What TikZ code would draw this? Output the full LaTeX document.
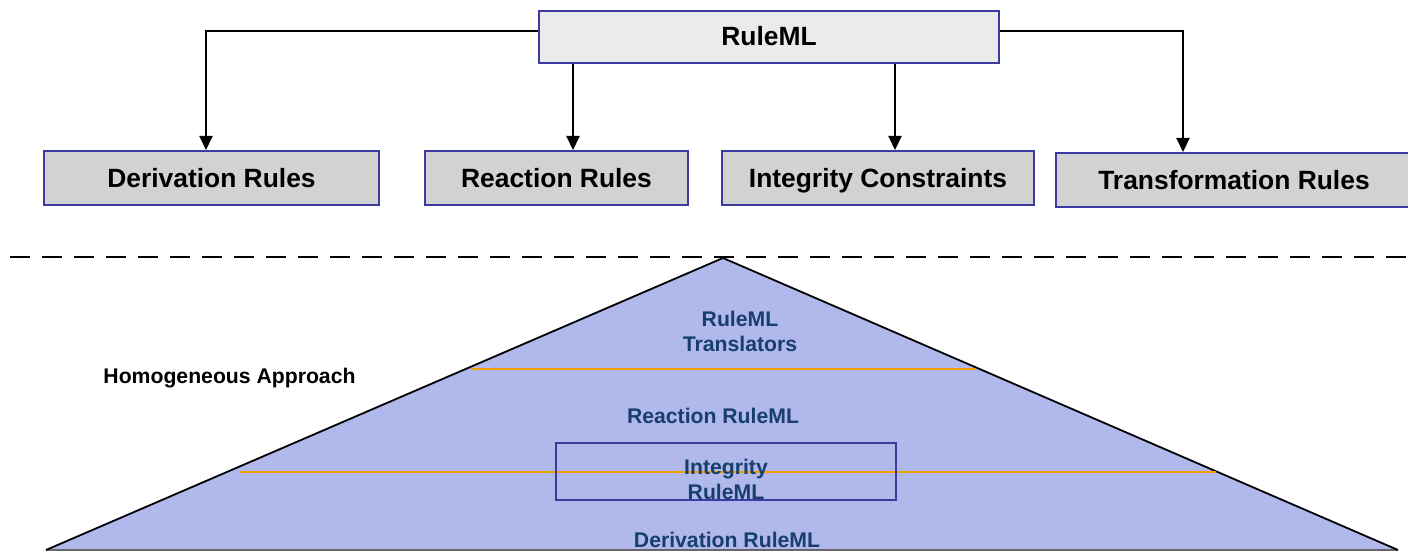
\documentclass[tikz,border=0pt]{standalone}
\usepackage{fontspec}
\setmainfont{Liberation Sans}
\usetikzlibrary{arrows.meta}
\definecolor{boxborder}{HTML}{3C3CA0}
\definecolor{toplight}{HTML}{EBEBEB}
\definecolor{lowgrey}{HTML}{D2D2D2}
\definecolor{trifill}{HTML}{B0B8EC}
\definecolor{orangeline}{HTML}{F0A000}
\definecolor{darkblue}{HTML}{173F6E}
\tikzset{
  topbox/.style={draw=boxborder, line width=1pt, fill=toplight, minimum height=26pt,
    font=\fontsize{13.2pt}{15pt}\selectfont\bfseries, inner sep=0pt, text height=0.9em, text depth=0pt},
  catbox/.style={draw=boxborder, line width=1pt, fill=lowgrey, minimum height=27pt,
    font=\fontsize{13.2pt}{15pt}\selectfont\bfseries, inner sep=0pt, text height=0.9em, text depth=0pt},
  conn/.style={line width=1pt, -{Triangle[length=7pt,width=6.5pt]}},
  bluetext/.style={text=darkblue, font=\fontsize{10.6pt}{12.5pt}\selectfont\bfseries, align=center, inner sep=0pt},
  orange/.style={draw=orangeline, line width=1.3pt},
}
\begin{document}
\begin{tikzpicture}[x=0.5pt,y=-0.5pt]
\useasboundingbox (0,0) rectangle (1408,551);
% top hierarchy
\node[topbox, minimum width=230pt] (rml) at (769,37) {RuleML};
\node[catbox, minimum width=167.5pt] (der) at (211.5,178) {Derivation Rules};
\node[catbox, minimum width=131.5pt] (rea) at (556.5,178) {Reaction Rules};
\node[catbox, minimum width=156pt] (int) at (878,178) {Integrity Constraints};
\node[catbox, minimum width=178pt] (tra) at (1234,180) {Transformation Rules};
\draw[conn] (rml.west |- 0,31) -| ([xshift=-2.75pt]der.north);
\draw[conn] (rml.south -| 573,0) -- (rea.north -| 573,0);
\draw[conn] (rml.south -| 895,0) -- (int.north -| 895,0);
\draw[conn] (rml.east |- 0,31) -| (tra.north -| 1183,0);
% dashed separator
\draw[line width=1pt, dash pattern=on 10pt off 6pt] (10,257) -- (1408,257);
% triangle
\coordinate (apex) at (723,258);
\coordinate (bl) at (46,550);
\coordinate (br) at (1398,550);
\fill[trifill] (apex) -- (bl) -- (br) -- cycle;
\draw[gray!80!black, line width=0.6pt] (bl) -- (br);
\draw[line width=0.9pt] (bl) -- (apex) -- (br);
\coordinate (o1a) at (471,369);
\coordinate (o1b) at (975,369);
\coordinate (o2a) at (240,472);
\coordinate (o2b) at (1216,472);
\draw[orange] (o1a) -- (o1b);
\draw[orange] (o2a) -- (o2b);
\node[draw=boxborder, line width=1pt, minimum width=170pt, minimum height=28.5pt, inner sep=0pt] (intbox) at (726,471.5) {};
\node[bluetext] (trans) at (740,331) {RuleML\\Translators};
\node[bluetext] (reac) at (713,416) {Reaction RuleML};
\node[bluetext] (integ) at (726,479) {Integrity\\RuleML};
\node[bluetext] (deriv) at (727,540) {Derivation RuleML};
\node[font=\fontsize{10.6pt}{12.5pt}\selectfont\bfseries, inner sep=0pt] (homog) at (229.5,378) {Homogeneous Approach};
\end{tikzpicture}
\end{document}
